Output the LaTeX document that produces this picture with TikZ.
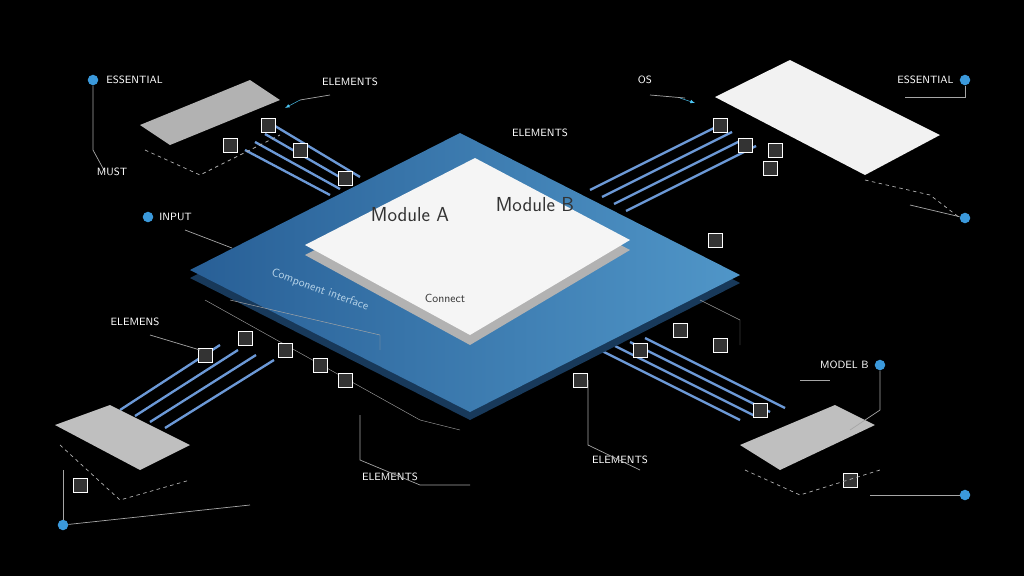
\documentclass[tikz,border=0pt]{standalone}
\begin{document}
\begin{tikzpicture}[x=0.03cm,y=-0.03cm,
 lbl/.style={font=\small\sffamily,text=white,inner sep=1pt},
 dot/.style={circle,fill=cyan!70!blue!80,inner sep=0pt,minimum size=9pt},
 thin/.style={draw=gray!70,line width=0.6pt},
 dsh/.style={draw=gray!60,dashed,line width=0.6pt},
 wire/.style={draw=cyan!50!blue!60,line width=2pt},
 chip/.style={draw=white,fill=gray!40!black,line width=0.8pt,minimum size=12pt,inner sep=0pt}]
\definecolor{bdark}{RGB}{40,95,150}
\definecolor{blight}{RGB}{80,150,200}
\fill[black] (0,0) rectangle (1024,576);
\useasboundingbox (0,0) rectangle (1024,576);
% wires
\foreach \i in {0,1,2,3}{
 \draw[wire] (245+10*\i,150-8*\i) -- (330+10*\i,195-6*\i);
 \draw[wire] (590+12*\i,190+7*\i) -- (720+12*\i,125+7*\i);
 \draw[wire] (120+15*\i,410+6*\i) -- (220+18*\i,345+5*\i);
 \draw[wire] (600+15*\i,350-4*\i) -- (740+15*\i,420-4*\i);
}
% main board
\fill[bdark!60!black] (190,278) -- (460,141) -- (740,283) -- (470,420) -- cycle;
\shade[left color=bdark,right color=blight] (190,270) -- (460,133) -- (740,275) -- (470,412) -- cycle;
\draw[gray!80] (205,300) -- (420,420) -- (460,430);
\draw[gray!80] (700,300) -- (740,320) -- (740,345);
% white module
\fill[gray!60] (305,255) -- (475,168) -- (630,250) -- (470,345) -- cycle;
\fill[gray!8] (305,245) -- (475,158) -- (630,240) -- (470,335) -- cycle;
\node[font=\LARGE\sffamily,text=gray!40!black] (ma) at (410,215) {Module A};
\node[font=\LARGE\sffamily,text=gray!40!black] (mb) at (535,205) {Module B};
\node[font=\normalsize\sffamily,text=gray!40!black] (cm) at (445,298) {Connect};
\node[font=\normalsize\sffamily,text=blight!40!white,rotate=-20] (cp) at (320,290) {Component interface};
\draw[gray!70] (230,300) -- (380,335) -- (380,350);
% cards
\fill[gray!60] (140,125) -- (250,80) -- (280,100) -- (170,145) -- cycle;
\fill[gray!10] (715,97) -- (790,60) -- (940,135) -- (865,175) -- cycle;
\fill[gray!50] (55,425) -- (110,405) -- (190,445) -- (140,470) -- cycle;
\fill[gray!50] (740,445) -- (835,405) -- (875,425) -- (780,470) -- cycle;
% chips
\foreach \p in {(268,125),(230,145),(300,150),(345,178),(720,125),(745,145),(775,150),(770,168),(715,240),(205,355),(245,338),(285,350),(320,365),(345,380),(580,380),(640,350),(680,330),(720,345),(760,410),(850,480),(80,485)}
 \node[chip] at \p {};
% dashed guides
\draw[dsh] (145,150) -- (200,175) -- (280,135);
\draw[dsh] (865,180) -- (930,195) -- (960,218);
\draw[dsh] (60,445) -- (120,500) -- (190,480);
\draw[dsh] (745,470) -- (800,495) -- (880,470);
% dots and labels
\node[dot] (d1) at (93,80) {};  \node[lbl,anchor=west] (t1) at (105,80) {ESSENTIAL};
\draw[thin] (d1) -- (93,150) -- (105,172);
\node[lbl] (t2) at (350,82) {ELEMENTS};
\draw[thin] (330,95) -- (300,100); \draw[-latex,cyan!70] (300,100) -- (285,108);
\node[lbl] (t3) at (112,172) {MUST};
\node[dot] (d4) at (148,217) {}; \node[lbl,anchor=west] (t4) at (158,217) {INPUT};
\draw[thin] (185,230) -- (232,248);
\node[lbl] (t5) at (540,133) {ELEMENTS};
\node[lbl] (t6) at (645,80) {OS};
\draw[thin] (650,95) -- (685,98); \draw[-latex,cyan!70] (680,98) -- (695,103);
\node[dot] (d7) at (965,80) {}; \node[lbl,anchor=east] (t7) at (955,80) {ESSENTIAL};
\draw[thin] (d7) -- (965,97) -- (905,97);
\node[dot] (d8) at (965,218) {}; \draw[thin] (d8) -- (910,205);
\node[lbl] (t9) at (135,322) {ELEMENS};
\draw[thin] (150,335) -- (200,350);
\node[dot] (d10) at (63,525) {}; \draw[thin] (d10) -- (63,470);
\draw[thin] (d10) -- (250,505);
\node[lbl] (t11) at (390,477) {ELEMENTS};
\draw[thin] (360,415) -- (360,460) -- (420,485) -- (470,485);
\node[lbl] (t12) at (620,460) {ELEMENTS};
\draw[thin] (588,380) -- (588,445) -- (640,470);
\node[dot] (d13) at (880,365) {}; \node[lbl,anchor=east] (t13) at (870,365) {MODEL B};
\draw[thin] (800,380) -- (830,380); \draw[thin] (d13) -- (880,410) -- (850,430);
\node[dot] (d14) at (965,495) {}; \draw[thin] (d14) -- (870,495);
\end{tikzpicture}
\end{document}
